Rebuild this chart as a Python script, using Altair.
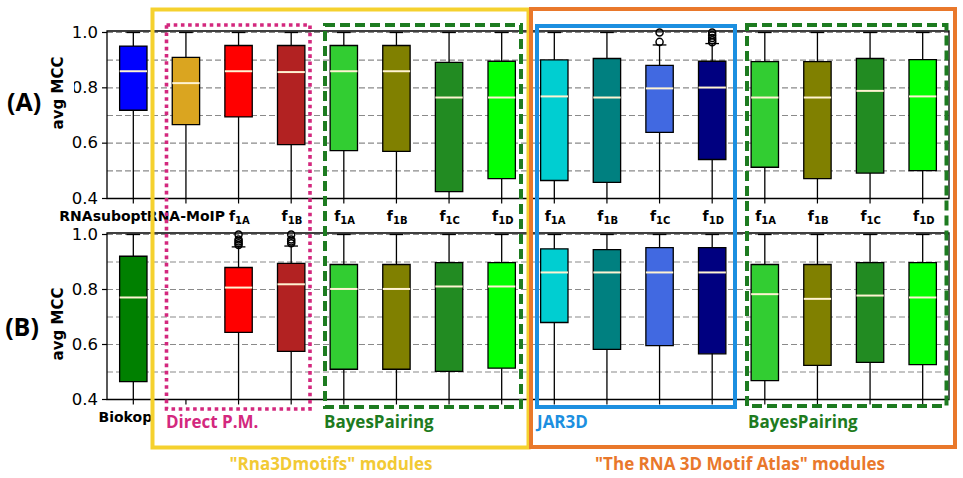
import altair as alt
import pandas as pd

# ---------------- data ----------------
positions_A = [1, 2, 3, 4, 5, 6, 7, 8, 9, 10, 11, 12, 13, 14, 15, 16]
names_A = ["RNAsubopt", "RNA-MoIP", "f", "f", "f", "f", "f", "f",
           "f", "f", "f", "f", "f", "f", "f", "f"]
subs_A = ["", "", "1A", "1B", "1A", "1B", "1C", "1D",
          "1A", "1B", "1C", "1D", "1A", "1B", "1C", "1D"]
colors_A = ["#0000FF", "#DAA520", "#FF0000", "#B22222",
            "#32CD32", "#808000", "#228B22", "#00FF00",
            "#00CED1", "#008080", "#4169E1", "#000080",
            "#32CD32", "#808000", "#228B22", "#00FF00"]
q3_A = [0.951, 0.910, 0.953, 0.953, 0.953, 0.953, 0.892, 0.896,
        0.901, 0.906, 0.881, 0.896, 0.895, 0.895, 0.906, 0.902]
med_A = [0.860, 0.817, 0.860, 0.857, 0.860, 0.860, 0.765, 0.765,
         0.769, 0.765, 0.798, 0.801, 0.765, 0.765, 0.789, 0.769]
q1_A = [0.719, 0.667, 0.695, 0.595, 0.573, 0.570, 0.425, 0.472,
        0.465, 0.458, 0.639, 0.541, 0.513, 0.472, 0.492, 0.501]
lo_A = [0.40, 0.40, 0.40, 0.40, 0.40, 0.40, 0.40, 0.40,
        0.40, 0.40, 0.40, 0.40, 0.40, 0.40, 0.40, 0.40]
hi_A = [1.0, 1.0, 1.0, 1.0, 1.0, 1.0, 1.0, 1.0,
        1.0, 1.0, 0.955, 0.960, 1.0, 1.0, 1.0, 1.0]
flier_pos_A = [11, 11, 12, 12, 12, 12, 12]
flier_val_A = [1.0, 0.966, 1.0, 0.99, 0.98, 0.972, 0.965]

positions_B = [1, 3, 4, 5, 6, 7, 8, 9, 10, 11, 12, 13, 14, 15, 16]
colors_B = ["#008000", "#FF0000", "#B22222",
            "#32CD32", "#808000", "#228B22", "#00FF00",
            "#00CED1", "#008080", "#4169E1", "#000080",
            "#32CD32", "#808000", "#228B22", "#00FF00"]
q3_B = [0.921, 0.880, 0.895, 0.891, 0.891, 0.898, 0.898,
        0.948, 0.945, 0.952, 0.952, 0.891, 0.891, 0.898, 0.898]
med_B = [0.771, 0.807, 0.819, 0.802, 0.802, 0.811, 0.811,
         0.862, 0.862, 0.862, 0.862, 0.783, 0.766, 0.778, 0.771]
q1_B = [0.465, 0.644, 0.575, 0.510, 0.510, 0.502, 0.514,
        0.680, 0.582, 0.596, 0.566, 0.469, 0.524, 0.535, 0.527]
lo_B = [0.40, 0.40, 0.40, 0.40, 0.40, 0.40, 0.40,
        0.40, 0.40, 0.40, 0.40, 0.40, 0.40, 0.40, 0.40]
hi_B = [1.0, 0.955, 0.958, 1.0, 1.0, 1.0, 1.0,
        1.0, 1.0, 1.0, 1.0, 1.0, 1.0, 1.0, 1.0]
flier_pos_B = [3, 3, 3, 3, 3, 4, 4, 4, 4]
flier_val_B = [1.0, 0.982, 0.975, 0.968, 0.962, 1.0, 0.982, 0.975, 0.968]
label_pos_B = [1]
label_names_B = ["Biokop"]

ytick_vals = [0.4, 0.6, 0.8, 1.0]
ytick_text = ["0.4", "0.6", "0.8", "1.0"]
grid_vals = [0.5, 0.6, 0.7, 0.8, 0.9, 1.0]

# ---------------- layout constants ----------------
X0, X1 = 107, 949
A_TOP, A_BOT = 32.5, 198.5
B_TOP, B_BOT = 234.5, 399.5
xs = alt.Scale(domain=[0.5, 16.5], range=[X0, X1], nice=False, zero=False)
dummy = pd.DataFrame({"d": [0]})
TICKFONT = "DejaVu Sans"
ANNFONT = "Open Sans"


def panel(pos, colors, q1, med, q3, lo, hi, fpos, fval, top, bot,
          lab_pos, lab_names, lab_subs, first_align, first_dx):
    ys = alt.Scale(domain=[0.4, 1.0], range=[bot, top], nice=False, zero=False)
    box = pd.DataFrame(dict(pos=pos, color=colors, q1=q1, med=med, q3=q3, lo=lo, hi=hi))
    base = alt.Chart(box).transform_calculate(
        bl="datum.pos - 0.26", br="datum.pos + 0.26",
        cl="datum.pos - 0.13", cr="datum.pos + 0.13")
    grid = alt.Chart(pd.DataFrame({"g": grid_vals})).mark_rule(
        color="#8a8a8a", strokeDash=[6, 3], strokeWidth=1.1).encode(
        y=alt.Y("g:Q", scale=ys, axis=None), x=alt.value(X0), x2=alt.value(X1))
    whisk = base.mark_rule(color="black", strokeWidth=1.3).encode(
        x=alt.X("pos:Q", scale=xs, axis=None),
        y=alt.Y("lo:Q", scale=ys, axis=None), y2=alt.Y2("hi"))
    cap = base.mark_rule(color="black", strokeWidth=1.3).encode(
        x=alt.X("cl:Q", scale=xs, axis=None), x2=alt.X2("cr"),
        y=alt.Y("hi:Q", scale=ys, axis=None))
    rect = base.mark_rect(stroke="black", strokeWidth=1.3).encode(
        x=alt.X("bl:Q", scale=xs, axis=None), x2=alt.X2("br"),
        y=alt.Y("q1:Q", scale=ys, axis=None), y2=alt.Y2("q3"),
        fill=alt.Fill("color:N", scale=None))
    median = base.mark_rule(color="#FFF3D2", strokeWidth=2).encode(
        x=alt.X("bl:Q", scale=xs, axis=None), x2=alt.X2("br"),
        y=alt.Y("med:Q", scale=ys, axis=None))
    fl = alt.Chart(pd.DataFrame({"pos": fpos, "v": fval})).mark_point(
        shape="circle", filled=False, color="black", size=50, strokeWidth=1.5, opacity=1).encode(
        x=alt.X("pos:Q", scale=xs, axis=None), y=alt.Y("v:Q", scale=ys, axis=None))
    border = alt.Chart(dummy).mark_rect(fillOpacity=0, stroke="black", strokeWidth=1.3).encode(
        x=alt.value(X0), x2=alt.value(X1), y=alt.value(top - 1.5), y2=alt.value(bot))
    yt = pd.DataFrame({"v": ytick_vals, "t": ytick_text})
    yticks = alt.Chart(yt).mark_rule(color="black", strokeWidth=1.2).encode(
        x=alt.value(X0 - 5), x2=alt.value(X0), y=alt.Y("v:Q", scale=ys, axis=None))
    ylabels = alt.Chart(yt).mark_text(
        font=TICKFONT, fontSize=16.5, align="right", baseline="middle", color="black").encode(
        x=alt.value(X0 - 9), y=alt.Y("v:Q", scale=ys, axis=None), text="t:N")
    xticks = alt.Chart(pd.DataFrame({"pos": positions_A})).mark_rule(
        color="black", strokeWidth=1.2).encode(
        x=alt.X("pos:Q", scale=xs, axis=None), y=alt.value(bot), y2=alt.value(bot + 5))
    labdf = pd.DataFrame({"pos": lab_pos, "name": lab_names, "sub": lab_subs})
    txt = dict(font=TICKFONT, fontWeight="bold", fontSize=14,
               baseline="alphabetic", color="black")
    first = alt.Chart(labdf).transform_filter("datum.pos == 1").mark_text(
        align=first_align, dx=first_dx, **txt).encode(
        x=alt.X("pos:Q", scale=xs, axis=None), y=alt.value(bot + 22), text="name:N")
    plain = alt.Chart(labdf).transform_filter("datum.sub == '' && datum.pos > 1").mark_text(
        align="center", **txt).encode(
        x=alt.X("pos:Q", scale=xs, axis=None), y=alt.value(bot + 22), text="name:N")
    fmain = alt.Chart(labdf).transform_filter("datum.sub != ''").mark_text(
        align="right", dx=-3.5, **txt).encode(
        x=alt.X("pos:Q", scale=xs, axis=None), y=alt.value(bot + 22), text="name:N")
    fsub = alt.Chart(labdf).transform_filter("datum.sub != ''").mark_text(
        font=TICKFONT, fontWeight="bold", fontSize=10, align="left", dx=-3.5,
        baseline="alphabetic", color="black").encode(
        x=alt.X("pos:Q", scale=xs, axis=None), y=alt.value(bot + 25.5), text="sub:N")
    return alt.layer(grid, whisk, cap, rect, median, fl, border, yticks, ylabels,
                     xticks, first, plain, fmain, fsub)


panelA = panel(positions_A, colors_A, q1_A, med_A, q3_A, lo_A, hi_A,
               flier_pos_A, flier_val_A, A_TOP, A_BOT, positions_A, names_A, subs_A,
               "right", 14)
panelB = panel(positions_B, colors_B, q1_B, med_B, q3_B, lo_B, hi_B,
               flier_pos_B, flier_val_B, B_TOP, B_BOT, label_pos_B, label_names_B, [""],
               "center", -8)


def frame(x0, x1, y0, y1, color, dash=None, width=4):
    kw = dict(fillOpacity=0, stroke=color, strokeWidth=width)
    if dash:
        kw["strokeDash"] = dash
    return alt.Chart(dummy).mark_rect(**kw).encode(
        x=alt.value(x0), x2=alt.value(x1), y=alt.value(y0), y2=alt.value(y1))


def label(text, x, y, color, size=17, align="left", angle=0, font=ANNFONT, weight="bold"):
    kw = dict(text=text, font=font, fontWeight=weight, fontSize=size, color=color,
              align=align, baseline="alphabetic")
    if angle:
        kw["angle"] = angle
        kw["baseline"] = "middle"
    return alt.Chart(dummy).mark_text(**kw).encode(x=alt.value(x), y=alt.value(y))


YEL, ORA, PINK, GRN, BLU = "#F5D12E", "#E9782B", "#D3287E", "#1D7B20", "#1C8FE0"

decor = [
    # patch over the "0" of 0.8 in panel A (as in the reference)
    alt.Chart(dummy).mark_rect(fill="white").encode(
        x=alt.value(62), x2=alt.value(74), y=alt.value(79), y2=alt.value(97)),
    label("avg MCC", 58, 93, "black", size=15, align="center", angle=270, font=TICKFONT),
    label("avg MCC", 58, 324, "black", size=15, align="center", angle=270, font=TICKFONT),
    label("(A)", 24, 111, "black", size=25, align="center"),
    label("(B)", 22, 336, "black", size=25, align="center"),
    frame(152.5, 528.5, 9.5, 447.5, YEL),
    frame(531, 955, 9, 447, ORA),
    frame(166.5, 310, 25, 409, PINK, dash=[3.6, 3.6], width=3.6),
    frame(325, 521, 25, 407, GRN, dash=[10, 5]),
    frame(537, 735, 26, 407, BLU),
    frame(747, 946.5, 25, 406, GRN, dash=[10, 5]),
    label("Direct P.M.", 166, 428, PINK),
    label("BayesPairing", 324, 428, GRN),
    label("JAR3D", 537, 428, BLU),
    label("BayesPairing", 748, 428, GRN),
    label("\"Rna3Dmotifs\" modules", 331, 470, "#F2CA35", align="center"),
    label("\"The RNA 3D Motif Atlas\" modules", 740, 470, ORA, align="center"),
]

chart = alt.layer(panelA, panelB, *decor).resolve_scale(y="independent").properties(
    width=963, height=478, padding=0, autosize=alt.AutoSizeParams(type="none"),
    background="white"
).configure_view(stroke=None)

chart.save("out.html", embed_options={"renderer": "svg", "actions": False})
